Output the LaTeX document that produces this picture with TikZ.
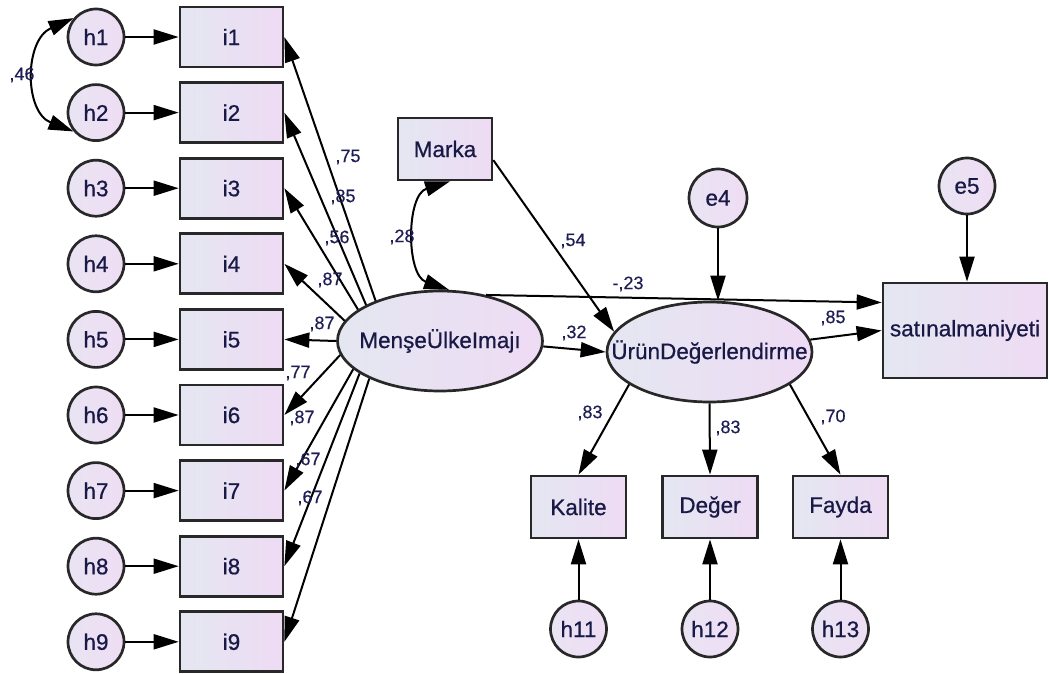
\documentclass[tikz,border=0pt]{standalone}
\usepackage{fontspec}
\setmainfont{Liberation Sans}
\newfontfamily\nodefont{Liberation Sans}[FakeBold=0.7]
\newfontfamily\coeffont{Liberation Sans}[FakeBold=0.4]
\usetikzlibrary{arrows.meta,shapes.geometric}

\definecolor{fillL}{RGB}{228,231,241}
\definecolor{fillR}{RGB}{238,219,244}
\definecolor{circL}{RGB}{233,228,243}
\definecolor{circR}{RGB}{239,221,244}
\definecolor{edge}{RGB}{40,40,40}
\definecolor{ink}{RGB}{25,25,70}
\definecolor{coefink}{RGB}{30,30,85}

\begin{document}
\begin{tikzpicture}[x=1pt,y=-1pt,
  base/.style={draw=edge, line width=2.7pt, left color=fillL, right color=fillR,
    inner sep=0pt, text=ink, font=\nodefont\fontsize{22.5}{26}\selectfont},
  obs/.style={base, rectangle, minimum width=103pt, minimum height=60pt},
  err/.style={base, circle, minimum size=56pt, left color=circL, right color=circR},
  lat/.style={base, ellipse, minimum width=205pt, minimum height=100pt},
  conn/.style={draw=black, line width=2pt, -{Triangle[length=25pt,width=15pt]}},
  cov/.style={draw=black, line width=2pt,
    {Triangle[length=25pt,width=15pt]}-{Triangle[length=25pt,width=15pt]}},
  coef/.style={text=coefink, inner sep=0pt, font=\coeffont\fontsize{18}{20}\selectfont}
]
\useasboundingbox (0,0) rectangle (1049,674);

% indicators of the exogenous latent variable with their error terms
\foreach \k/\y in {1/37,2/112.6,3/188.2,4/263.8,5/339.4,6/415,7/490.6,8/566.2,9/641.8}{
  \node[err] (h\k) at (96,\y) {h\k};
  \node[obs] (i\k) at (231.5,\y) {i\k};
  \draw[conn] (h\k) -- (i\k);
}

% latent variables (text kept out of the shape size) and other observed variables
\node[lat] (m) at (440,341) {\makebox[0pt]{MenşeÜlkeImajı}};
\node[lat] (ur) at (709.5,352) {\makebox[0pt]{ÜrünDeğerlendirme}};
\node[base, rectangle, minimum width=94pt, minimum height=62pt] (mk) at (445,149) {Marka};
\node[base, rectangle, minimum width=164pt, minimum height=95pt] (sat) at (965,330.5) {satınalmaniyeti};
\node[err, minimum size=58pt] (e4) at (718,198) {e4};
\node[err] (e5) at (967,186) {e5};

\node[obs, minimum width=95pt, minimum height=62pt] (kal) at (578.5,507) {Kalite};
\node[obs, minimum width=95pt, minimum height=62pt] (deg) at (710,507) {Değer};
\node[obs, minimum width=95pt, minimum height=62pt] (fay) at (840.5,507) {Fayda};
\node[err] (h11) at (578.5,629) {h11};
\node[err] (h12) at (710,629) {h12};
\node[err] (h13) at (840.5,629) {h13};

% loadings of MenşeÜlkeImajı
\draw[conn] (m.148) -- (i1.east);
\draw[conn] (m.154) -- (i2.east);
\draw[conn] (m.159) -- (i3.east);
\draw[conn] (m.168) -- (i4.east);
\draw[conn] (m.180) -- (i5.east);
\draw[conn] (m.188) -- (i6.east);
\draw[conn] (m.198) -- (i7.east);
\draw[conn] (m.202) -- (i8.east);
\draw[conn] (m.208) -- (i9.east);

% covariances
\draw[cov] (h1.140) .. controls (24,40) and (24,112) .. (h2.220);
\draw[cov] ([xshift=5pt]mk.south) .. controls (406,195) and (406,275) .. (m.80);

% structural paths
\draw[conn] (mk.-13) -- (ur.168);
\draw[conn] (m.45) -- ([yshift=28pt]sat.west);
\draw[conn] (m.-3) -- (ur.west);
\draw[conn] (ur.7) -- (sat.west);
\draw[conn] (e4.south) -- (e4.south |- ur.north);
\draw[conn] (e5.south) -- (e5.south |- sat.north);

% loadings of ÜrünDeğerlendirme
\draw[conn] (ur.202) -- (kal.north);
\draw[conn] (ur.south) -- (deg.north);
\draw[conn] (ur.-22) -- (fay.north);
\draw[conn] (h11) -- (kal);
\draw[conn] (h12) -- (deg);
\draw[conn] (h13) -- (fay);

% standardized estimates
\node[coef] (c46) at (22,75) {,46};
\node[coef] (c1) at (348,157) {,75};
\node[coef] (c2) at (343,197) {,85};
\node[coef] (c3) at (337,238) {,56};
\node[coef] (c4) at (330,280) {,87};
\node[coef] (c5) at (322,324) {,87};
\node[coef] (c6) at (298,373) {,77};
\node[coef] (c7) at (302,418) {,87};
\node[coef] (c8) at (308,460) {,67};
\node[coef] (c9) at (310,498) {,67};
\node[coef] (c28) at (402,237) {,28};
\node[coef] (c54) at (573,241) {,54};
\node[coef] (c23) at (628,284) {-,23};
\node[coef] (c32) at (574,333) {,32};
\node[coef] (c85) at (833,318) {,85};
\node[coef] (ck) at (590,413) {,83};
\node[coef] (cd) at (728,428) {,83};
\node[coef] (cf) at (833,417) {,70};
\end{tikzpicture}
\end{document}
